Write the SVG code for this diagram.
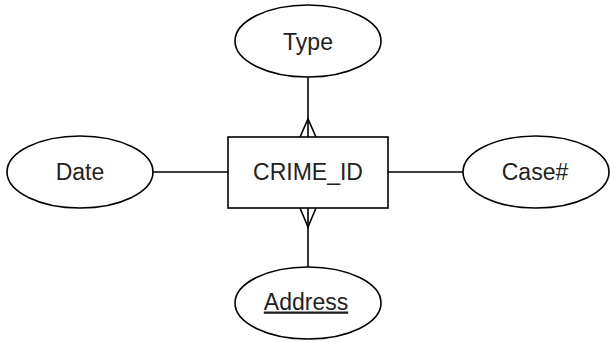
<svg xmlns="http://www.w3.org/2000/svg" width="610" height="342" viewBox="0 0 610 342">
<style>
.shape{fill:#fff;stroke:#000;stroke-width:1.6}
.edge{fill:none;stroke:#000;stroke-width:1.6}
text{font-family:"Liberation Sans",Arial,sans-serif;font-size:23px;fill:#222;text-anchor:middle}
</style>
<rect width="610" height="342" fill="#fff"/>
<g id="connectors">
<line class="edge" x1="308" y1="77" x2="308" y2="137"/>
<polyline class="edge" points="300,137 308,119 316,137"/>
<line class="edge" x1="308" y1="208" x2="308" y2="267"/>
<polyline class="edge" points="300,208 308,227 316,208"/>
<line class="edge" x1="153" y1="172" x2="228" y2="172"/>
<line class="edge" x1="388" y1="172" x2="463" y2="172"/>
</g>
<g id="crime_id">
<rect class="shape" x="228" y="137" width="160" height="71"/>
<text x="308" y="179.5">CRIME_ID</text>
</g>
<g id="type">
<ellipse class="shape" cx="308" cy="41" rx="73" ry="36"/>
<text x="308" y="49.5">Type</text>
</g>
<g id="date">
<ellipse class="shape" cx="80" cy="172" rx="73" ry="36"/>
<text x="80" y="179.5">Date</text>
</g>
<g id="case">
<ellipse class="shape" cx="536" cy="172" rx="73" ry="36"/>
<text x="535" y="179.5">Case#</text>
</g>
<g id="address">
<ellipse class="shape" cx="308" cy="303" rx="73" ry="36"/>
<text x="306" y="309.5" text-decoration="underline">Address</text>
</g>
</svg>
